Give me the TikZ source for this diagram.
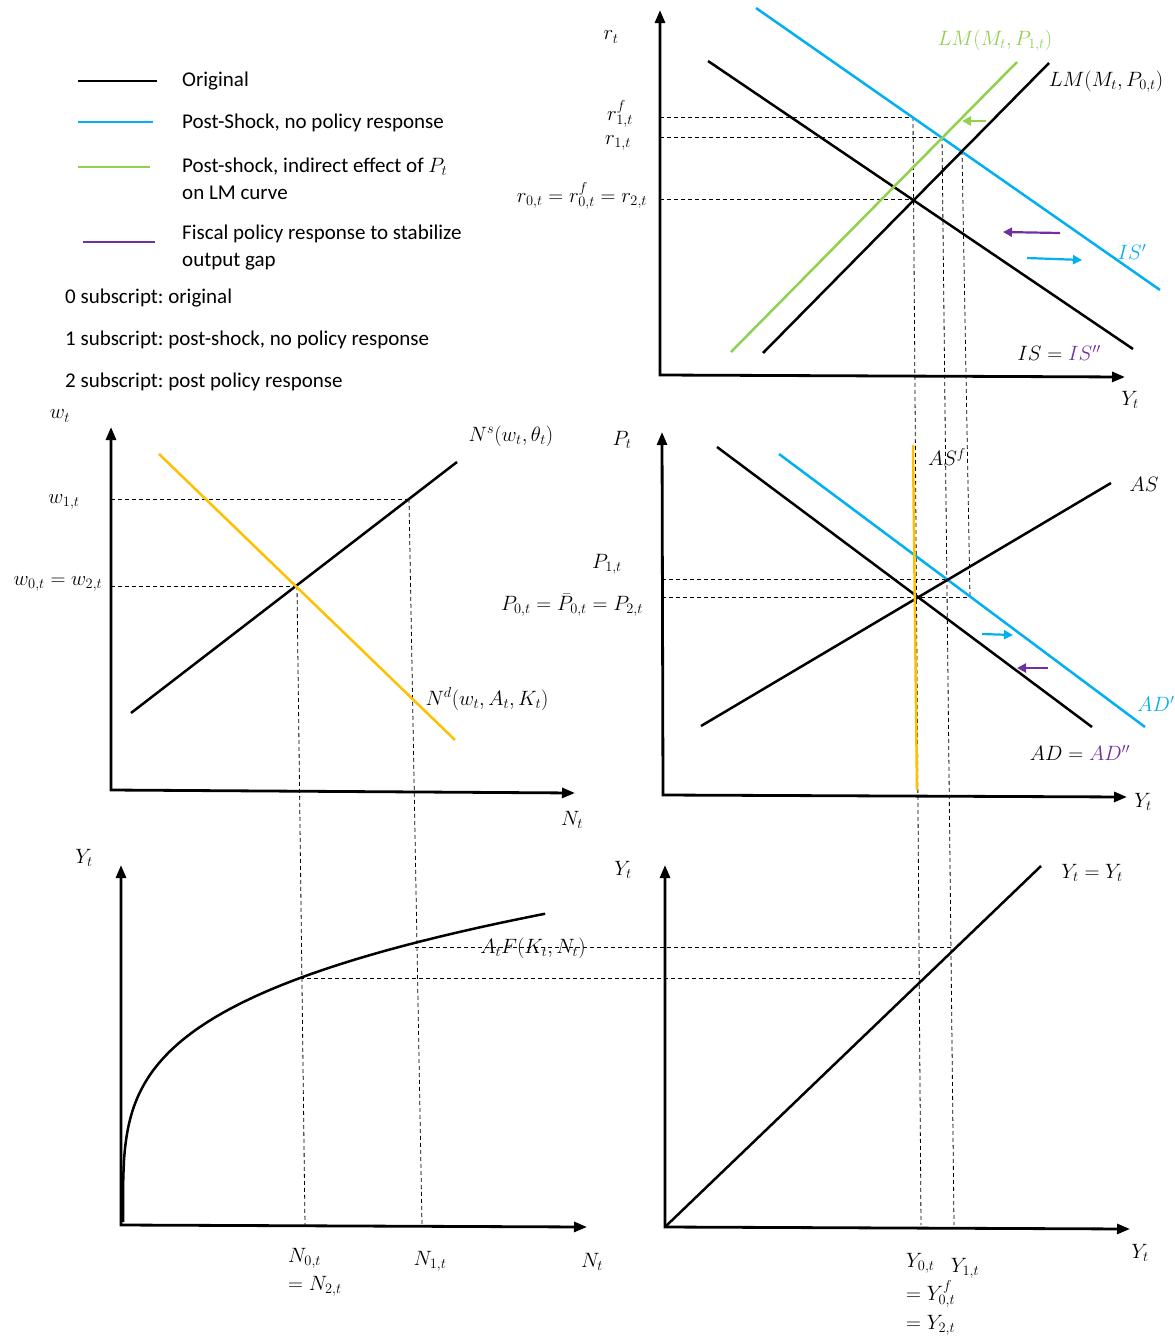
\documentclass[tikz,border=0pt]{standalone}
\usepackage[no-math]{fontspec}
\setmainfont{Carlito}
\usetikzlibrary{arrows.meta}
\definecolor{cblue}{HTML}{00B0F0}
\definecolor{cgreen}{HTML}{92D050}
\definecolor{cpurple}{HTML}{7030A0}
\definecolor{cyellow}{HTML}{FFC000}
\frenchspacing
\begin{document}
\begin{tikzpicture}[x=1pt,y=-1pt,
  axes/.style={line width=2.8pt,line join=miter,{Triangle[length=13pt,width=10pt]}-{Triangle[length=13pt,width=10pt]}},
  crv/.style={line width=2.5pt},
  dsh/.style={dash pattern=on 4pt off 3pt,line width=0.8pt},
  lbl/.style={inner sep=0pt,font=\fontsize{22}{26}\selectfont},
  leg/.style={inner sep=0pt,anchor=west,font=\fontsize{21}{27}\selectfont,align=left},
  sarr/.style={line width=2.2pt,-{Triangle[length=9pt,width=9pt]}}]
\path[use as bounding box,fill=white] (0,0) rectangle (1175,1336);

% ---------- Legend ----------
\draw[crv,black]   (78,81) -- (157,81);
\draw[crv,cblue]   (78,122) -- (153,122);
\draw[crv,cgreen]  (78,167) -- (150,167);
\draw[crv,cpurple] (83,242) -- (155,242);
\node[leg] (l1) at (182,81) {Original};
\node[leg] (l2) at (182,123) {Post-Shock, no policy response};
\node[leg] (l3) at (182,179) {Post-shock, indirect effect of $P_t$\\on LM curve};
\node[leg] (l4) at (182,248) {Fiscal policy response to stabilize\\output gap};
\node[leg] (l5) at (65,298) {0 subscript: original};
\node[leg] (l6) at (65,340) {1 subscript: post-shock, no policy response};
\node[leg] (l7) at (65,382) {2 subscript: post policy response};

% ---------- IS-LM panel ----------
\draw[axes] (660,10) -- (660,375) -- (1125,377);
\draw[dsh] (660,117) -- (913,117);
\draw[dsh] (660,137) -- (942,137);
\draw[dsh] (660,199) -- (913,199);
\draw[dsh] (913,117) -- (921,1225);
\draw[dsh] (942,137) -- (954,1225);
\draw[dsh] (962,151) -- (970,597);
\draw[crv,black]  (708,61) -- (1133,349);
\draw[crv,cblue]  (756,8) -- (1160,290);
\draw[crv,black]  (763,353) -- (1049,63);
\draw[crv,cgreen] (731,352) -- (1017,62);
\draw[sarr,cgreen]  (986,121) -- (962,121);
\draw[sarr,cpurple] (1060,233) -- (1003,232);
\draw[sarr,cblue]   (1027,258) -- (1082,260);
\node[lbl] (rt) at (611,37) {$r_t$};
\node[lbl] (r1f) at (620,114) {$r^f_{1,t}$};
\node[lbl] (r1) at (618,143) {$r_{1,t}$};
\node[lbl] (r0) at (582,196) {$r_{0,t}=r^f_{0,t}=r_{2,t}$};
\node[lbl] (yt1) at (1130,400) {$Y_t$};
\node[lbl,text=cgreen] (lm1) at (995,41) {$LM(M_t,P_{1,t})$};
\node[lbl] (lm0) at (1106,82) {$LM(M_t,P_{0,t})$};
\node[lbl,text=cblue] (isp) at (1132,252) {$IS'$};
\node[lbl] (is) at (1059,353) {$IS=\textcolor{cpurple}{IS''}$};

% ---------- Labour market panel ----------
\draw[axes] (111,427) -- (111,790) -- (575,793);
\draw[dsh] (111,499) -- (409,499);
\draw[dsh] (111,586) -- (297,586);
\draw[dsh] (297,586) -- (305,1225);
\draw[dsh] (409,499) -- (422,1225);
\draw[crv,black]   (131,713) -- (457,462);
\draw[crv,cyellow] (159,454) -- (455,740);
\node[lbl] (wt) at (60,416) {$w_t$};
\node[lbl] (w1) at (64,502) {$w_{1,t}$};
\node[lbl] (w0) at (58,584) {$w_{0,t}=w_{2,t}$};
\node[lbl] (ns) at (511,436) {$N^s(w_t,\theta_t)$};
\node[lbl] (nd) at (487,699) {$N^d(w_t,A_t,K_t)$};
\node[lbl] (nt1) at (572,820) {$N_t$};

% ---------- AS-AD panel ----------
\draw[axes] (662,432) -- (663,795) -- (1127,797);
\draw[dsh] (662,579) -- (948,579);
\draw[dsh] (662,597) -- (970,597);
\draw[crv,black]   (717,447) -- (1092,727);
\draw[crv,cblue]   (779,454) -- (1145,727);
\draw[crv,black]   (701,726) -- (1111,483);
\draw[crv,cyellow] (913,445) -- (917,790);
\draw[sarr,cblue]   (982,634) -- (1013,635);
\draw[sarr,cpurple] (1048,668) -- (1017,668);
\node[lbl] (pt) at (622,440) {$P_t$};
\node[lbl] (p1) at (607,564) {$P_{1,t}$};
\node[lbl] (p0) at (572,605) {$P_{0,t}=\bar{P}_{0,t}=P_{2,t}$};
\node[lbl] (asf) at (947,457) {$AS^f$};
\node[lbl] (as) at (1144,484) {$AS$};
\node[lbl,text=cblue] (adp) at (1156,704) {$AD'$};
\node[lbl] (ad) at (1080,753) {$AD=\textcolor{cpurple}{AD''}$};
\node[lbl] (yt2) at (1143,802) {$Y_t$};

% ---------- Production function panel ----------
\draw[axes] (121,865) -- (121,1225) -- (587,1227);
\draw[dsh] (415,947) -- (954,947);
\draw[dsh] (300,978) -- (921,978);
\draw[crv,black,line join=round] (123,1222) -- plot[domain=0.02:1,samples=160,variable=\u] ({123+425*\u*\u*\u},{1222-308.8*(\u^0.807)});
\node[lbl] (yt3) at (84,858) {$Y_t$};
\node[lbl] (prod) at (533,948) {$A_tF(K_t,N_t)$};
\node[lbl,anchor=west] (n0) at (288,1258) {$N_{0,t}$};
\node[lbl,anchor=west] (n2) at (288,1286) {$=N_{2,t}$};
\node[lbl] (n1) at (430,1261) {$N_{1,t}$};
\node[lbl] (nt2) at (592,1262) {$N_t$};

% ---------- 45-degree panel ----------
\draw[axes] (665,865) -- (665,1227) -- (1130,1229);
\draw[crv,black] (666,1226) -- (1041,866);
\node[lbl] (yt4) at (623,870) {$Y_t$};
\node[lbl] (yy) at (1092,873) {$Y_t=Y_t$};
\node[lbl] (yt5) at (1140,1253) {$Y_t$};
\node[lbl,anchor=west] (y0) at (906,1263) {$Y_{0,t}$};
\node[lbl] (y1) at (965,1268) {$Y_{1,t}$};
\node[lbl,anchor=west] (yf) at (906,1294) {$=Y^f_{0,t}$};
\node[lbl,anchor=west] (y2) at (906,1325) {$=Y_{2,t}$};
\end{tikzpicture}
\end{document}
